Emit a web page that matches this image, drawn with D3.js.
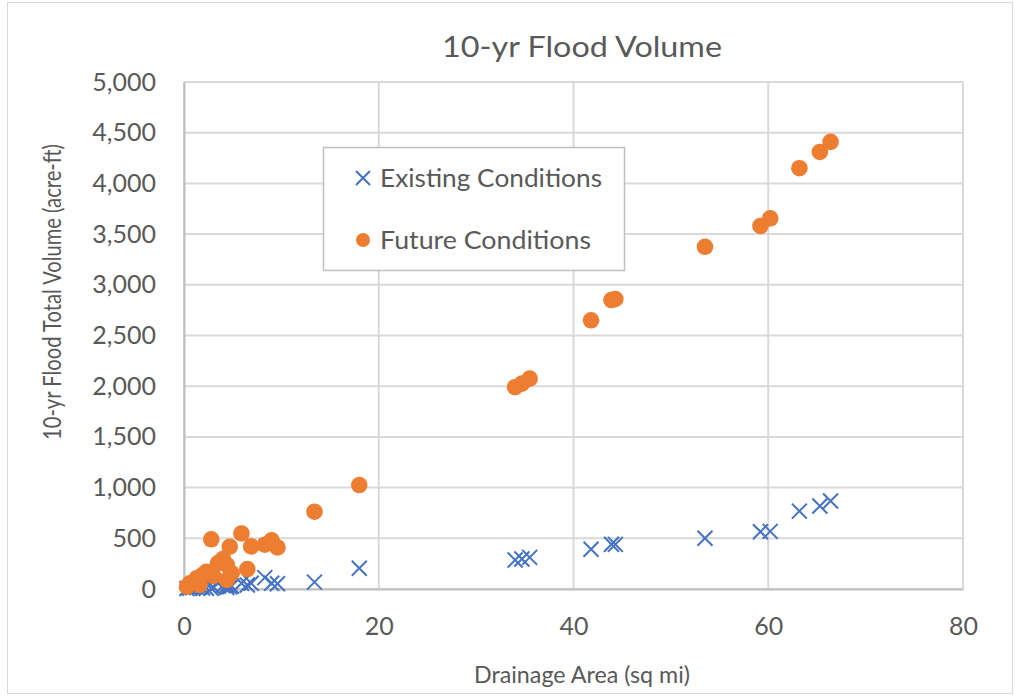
<!DOCTYPE html>
<html>
<head>
<meta charset="utf-8">
<script src="https://cdn.jsdelivr.net/npm/d3@7"></script>
<style>
body { margin: 0; background: #fff; }
svg text { font-family: Lato, "Open Sans", sans-serif; fill: #595959; }
</style>
</head>
<body>
<svg id="chart"></svg>
<script>
const svg_width = 1015;
const svg_height = 696;

// drainage area (sq mi) for each basin
const area = [66.4, 65.3, 63.2, 60.2, 59.2, 53.5, 44.3, 43.9, 41.8, 35.5, 34.7, 34.0, 18.0, 13.4,
	9.6, 9.0, 8.3, 6.9, 6.5, 5.9, 4.7, 4.9, 4.4, 4.4, 4.0, 3.5, 3.0, 2.8, 2.3, 1.9, 1.6, 1.3, 0.9, 0.6, 0.3];
// 10-yr flood volume (acre-ft)
const existing = [868, 818, 768, 568, 565, 500, 440, 442, 392, 312, 296, 286, 204, 68,
	52, 56, 112, 56, 40, 56, 22, 28, 35, 15, 32, 56, 20, 8, 8, 10, 25, 15, 12, 8, 5];
const future = [4410, 4310, 4150, 3655, 3580, 3375, 2860, 2850, 2650, 2075, 2025, 1990, 1025, 762,
	410, 480, 437, 420, 197, 548, 417, 155, 237, 90, 295, 255, 130, 490, 170, 138, 40, 105, 60, 56, 23];

const xTicks = [0, 20, 40, 60, 80];
const yTicks = [0, 500, 1000, 1500, 2000, 2500, 3000, 3500, 4000, 4500, 5000];
const seriesNames = ['Existing Conditions', 'Future Conditions'];

const blue = '#4472C4';
const orange = '#ED7D31';
const grid = '#d9d9d9';

const svg = d3.select('#chart')
	.attr('width', svg_width)
	.attr('height', svg_height);

// chart border
svg.append('rect')
	.attr('x', 7.5).attr('y', 2.5)
	.attr('width', 1005).attr('height', 691)
	.attr('fill', 'white')
	.attr('stroke', grid);

const margin = {top: 82, right: 52, bottom: 107, left: 184};
const innerWidth = svg_width - margin.left - margin.right;
const innerHeight = svg_height - margin.top - margin.bottom;

const g = svg.append('g').attr('transform', `translate(${margin.left}, ${margin.top})`);

const x = d3.scaleLinear().domain([0, 80]).range([0, innerWidth]);
const y = d3.scaleLinear().domain([0, 5000]).range([innerHeight, 0]);

// gridlines
g.append('g').selectAll('line').data(yTicks).join('line')
	.attr('x1', 0).attr('x2', innerWidth)
	.attr('y1', d => y(d)).attr('y2', d => y(d))
	.attr('stroke', grid).attr('stroke-width', 2);
g.append('g').selectAll('line').data(xTicks).join('line')
	.attr('x1', d => x(d)).attr('x2', d => x(d))
	.attr('y1', 0).attr('y2', innerHeight)
	.attr('stroke', grid).attr('stroke-width', 2);

// axes
const xAxis = g.append('g')
	.attr('transform', `translate(0, ${innerHeight})`)
	.call(d3.axisBottom(x).tickValues(xTicks).tickSize(0).tickPadding(28));
const yAxis = g.append('g')
	.call(d3.axisLeft(y).tickValues(yTicks).tickSize(0).tickPadding(28).tickFormat(d3.format(',')));
[xAxis, yAxis].forEach(a => {
	a.select('.domain').attr('stroke', '#bfbfbf').attr('stroke-width', 2);
	a.selectAll('text').attr('font-size', '25px').attr('fill', '#595959').attr('font-family', 'Lato, sans-serif');
});

// existing: x markers
const s = 7.5;
g.append('g').selectAll('path').data(area).join('path')
	.attr('d', (d, i) => {
		const cx = x(d), cy = y(existing[i]);
		return `M${cx - s},${cy - s}L${cx + s},${cy + s}M${cx - s},${cy + s}L${cx + s},${cy - s}`;
	})
	.attr('stroke', blue).attr('stroke-width', 2).attr('fill', 'none');

// future: circles
g.append('g').selectAll('circle').data(area).join('circle')
	.attr('cx', d => x(d))
	.attr('cy', (d, i) => y(future[i]))
	.attr('r', 8.3)
	.attr('fill', orange);

// title and axis titles
svg.append('text').text('10-yr Flood Volume')
	.attr('x', 582).attr('y', 57)
	.attr('text-anchor', 'middle').attr('font-size', '28px')
	.attr('textLength', 280).attr('lengthAdjust', 'spacingAndGlyphs');
svg.append('text').text('Drainage Area (sq mi)')
	.attr('x', 582).attr('y', 683)
	.attr('text-anchor', 'middle').attr('font-size', '24px')
	.attr('textLength', 216).attr('lengthAdjust', 'spacingAndGlyphs');
svg.append('text').text('10-yr Flood Total Volume (acre-ft)')
	.attr('transform', 'translate(61, 292) rotate(-90)')
	.attr('text-anchor', 'middle').attr('font-size', '25.5px')
	.attr('textLength', 296).attr('lengthAdjust', 'spacingAndGlyphs');

// legend
const legend = svg.append('g');
legend.append('rect')
	.attr('x', 323.5).attr('y', 147.5)
	.attr('width', 301).attr('height', 123)
	.attr('fill', 'white').attr('stroke', '#bfbfbf').attr('stroke-width', 1.5);
const ly = [178, 240];
legend.append('path')
	.attr('d', `M${356},${ly[0] - 7}L${370},${ly[0] + 7}M${356},${ly[0] + 7}L${370},${ly[0] - 7}`)
	.attr('stroke', blue).attr('stroke-width', 2);
legend.append('circle').attr('cx', 363).attr('cy', ly[1]).attr('r', 7).attr('fill', orange);
const legendWidths = [222, 211];
legend.selectAll('text.leg').data(seriesNames).join('text')
	.attr('class', 'leg')
	.attr('x', 380).attr('y', (d, i) => ly[i] + 9)
	.attr('font-size', '25px')
	.attr('textLength', (d, i) => legendWidths[i]).attr('lengthAdjust', 'spacingAndGlyphs')
	.text(d => d);
</script>
</body>
</html>
